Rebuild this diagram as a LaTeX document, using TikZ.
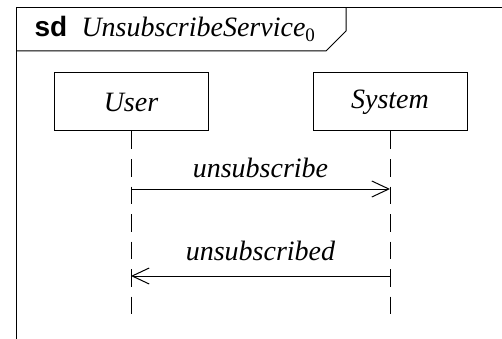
\documentclass[tikz,border=0pt]{standalone}
\usepackage{fontspec}
\setmainfont{Liberation Serif}
\newfontfamily\sdfont{Liberation Sans}
\usetikzlibrary{arrows.meta}
\begin{document}
\begin{tikzpicture}[x=1pt,y=1pt,
  line width=1pt,
  lbl/.style={font=\fontsize{28}{32}\selectfont\itshape, inner sep=0pt},
  lifebox/.style={draw, minimum width=154pt, minimum height=58pt, inner sep=0pt,
                  font=\fontsize{28}{32}\selectfont\itshape},
  lifeline/.style={dash pattern=on 17.5pt off 10pt},
  msg/.style={-{Straight Barb[length=17pt,width=16pt,line width=1pt]}}]
\useasboundingbox (0,0) rectangle (502,-339);
% frame with its name tab
\draw (502,-8) -- (16,-8) -- (16,-339);
\draw (16,-51) -- (326,-51) -- (346,-31) -- (346,-8);
\node[anchor=base west, inner sep=0pt, font=\sdfont\bfseries\fontsize{28}{32}\selectfont] (sd) at (34,-36.5) {sd};
\node[anchor=base west, inner sep=0pt, font=\fontsize{28}{32}\selectfont] (title) at (81,-36.5)
  {\textit{UnsubscribeService}\raisebox{-5pt}{\fontsize{19}{20}\selectfont 0}};
% lifelines
\node[lifebox] (user) at (131,-102) {User};
\node[lifebox] (system) at (390,-102) {System};
\coordinate (uend) at (131,-314);
\coordinate (send) at (390,-314);
\draw[lifeline] (user.south) -- (uend);
\draw[lifeline] (system.south) -- (send);
% messages
\coordinate (u1) at (131,-189);
\coordinate (s1) at (390,-189);
\coordinate (u2) at (131,-276);
\coordinate (s2) at (390,-276);
\draw[msg] (u1) -- (s1) node[lbl, midway, anchor=base, yshift=12pt] {unsubscribe};
\draw[msg] (s2) -- (u2) node[lbl, midway, anchor=base, yshift=16pt] {unsubscribed};
\end{tikzpicture}
\end{document}
